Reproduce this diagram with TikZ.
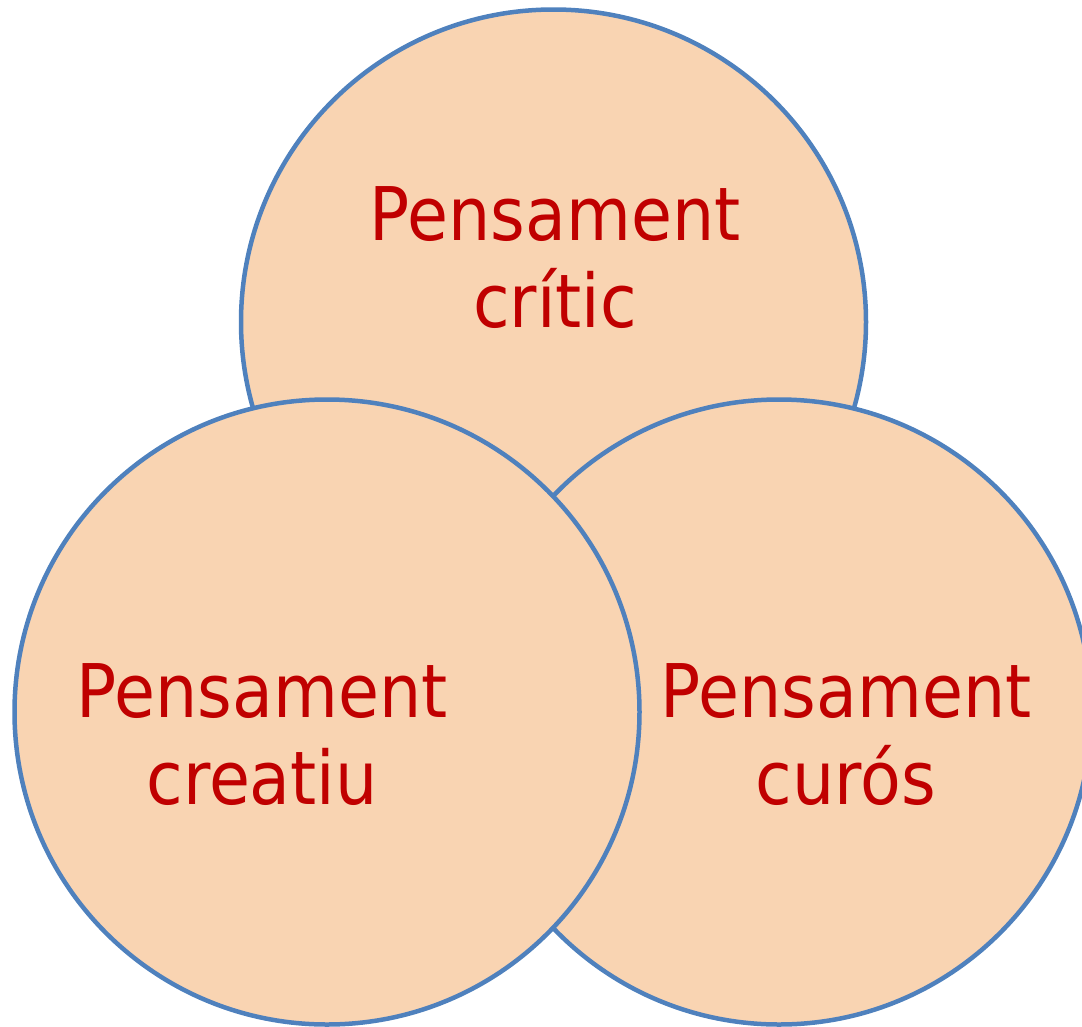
\documentclass[tikz,border=0pt]{standalone}
\usepackage{fontspec}
\setmainfont[FakeStretch=0.9]{DejaVu Sans}
\definecolor{fillc}{HTML}{F9D4B2}
\definecolor{linec}{HTML}{4F81BD}
\definecolor{textc}{HTML}{C00000}
\begin{document}
\begin{tikzpicture}[x=1pt,y=-1pt,
  bubble/.style={circle,draw=linec,fill=fillc,line width=4.5pt,minimum size=625pt,inner sep=0pt},
  lbl/.style={text=textc,font=\fontsize{74}{87}\selectfont,anchor=base,inner sep=0pt}]
\useasboundingbox (0,0) rectangle (1082,1026);
\clip (0,0) rectangle (1082,1026);
\node[bubble] (top) at (553.5,322) {};
\node[bubble] (right) at (779,712) {};
\node[bubble] (left) at (327,712) {};
\node[lbl] (t1) at (555,240) {Pensament};
\node[lbl] (t2) at (555,327) {crític};
\node[lbl] (l1) at (262,717) {Pensament};
\node[lbl] (l2) at (262,804) {creatiu};
\node[lbl] (r1) at (846,717) {Pensament};
\node[lbl] (r2) at (846,804) {curós};
\end{tikzpicture}
\end{document}
